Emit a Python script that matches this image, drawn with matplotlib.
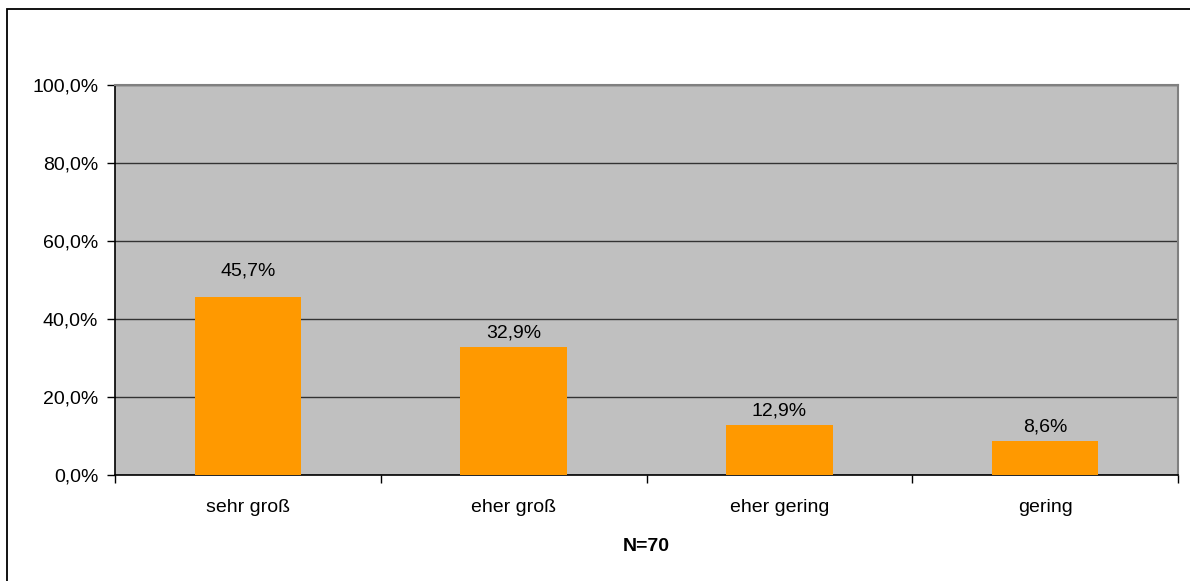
import matplotlib
matplotlib.use("Agg")
import matplotlib.pyplot as plt
from matplotlib.patches import Rectangle
from matplotlib.ticker import FixedLocator

categories = ["sehr groß", "eher groß", "eher gering", "gering"]
values = [45.7, 32.9, 12.9, 8.6]
y_ticks = [0, 20, 40, 60, 80, 100]
x_title = "N=70"

plt.rcParams['font.family'] = ['Liberation Sans', 'DejaVu Sans']
FS = 14

fig = plt.figure(figsize=(11.9, 5.81), dpi=100)
fig.patch.set_facecolor("white")

# outer frame of the chart
fig.patches.append(Rectangle((7 / 1190, -0.01), 1.1, (581 - 9) / 581 + 0.01,
                             transform=fig.transFigure, fill=False,
                             edgecolor="black", linewidth=1.3, zorder=0))

ax = fig.add_axes([115 / 1190, (581 - 475) / 581, (1178 - 115) / 1190, (475 - 85) / 581])
ax.set_facecolor("#C0C0C0")

x = list(range(len(categories)))
ax.bar(x, values, width=0.4, color="#FF9900", zorder=3)

# the first label sits a little higher than the others
label_lift = {0: 3.0}
for i, (xi, v) in enumerate(zip(x, values)):
    ax.text(xi, v + 1.4 + label_lift.get(i, 0.0), f"{v:.1f}".replace(".", ",") + "%",
            ha="center", va="bottom", fontsize=FS, color="black", zorder=4)

ax.set_xlim(-0.5, len(categories) - 0.5)
ax.set_ylim(0, 100)
ax.set_yticks(y_ticks)
ax.set_yticklabels([f"{t:.1f}".replace(".", ",") + "%" for t in y_ticks], fontsize=FS)
ax.yaxis.grid(True, color="#333333", linewidth=1.0, zorder=1)
ax.set_axisbelow(True)

ax.set_xticks(x)
ax.set_xticklabels(categories, fontsize=FS)
ax.xaxis.set_minor_locator(FixedLocator([i - 0.5 for i in range(len(categories) + 1)]))
ax.tick_params(axis="x", which="major", length=0, pad=17)
ax.tick_params(axis="x", which="minor", length=6, width=1, color="black", direction="out")
ax.tick_params(axis="y", length=6, width=1, color="black", direction="out", pad=6)

ax.set_xlabel(x_title, fontsize=FS, fontweight="bold", labelpad=16)

for side in ["left", "bottom"]:
    ax.spines[side].set_color("black")
    ax.spines[side].set_linewidth(1.2)
for side in ["top", "right"]:
    ax.spines[side].set_color("#808080")
    ax.spines[side].set_linewidth(1.5)

fig.savefig("out.png", dpi=100)
